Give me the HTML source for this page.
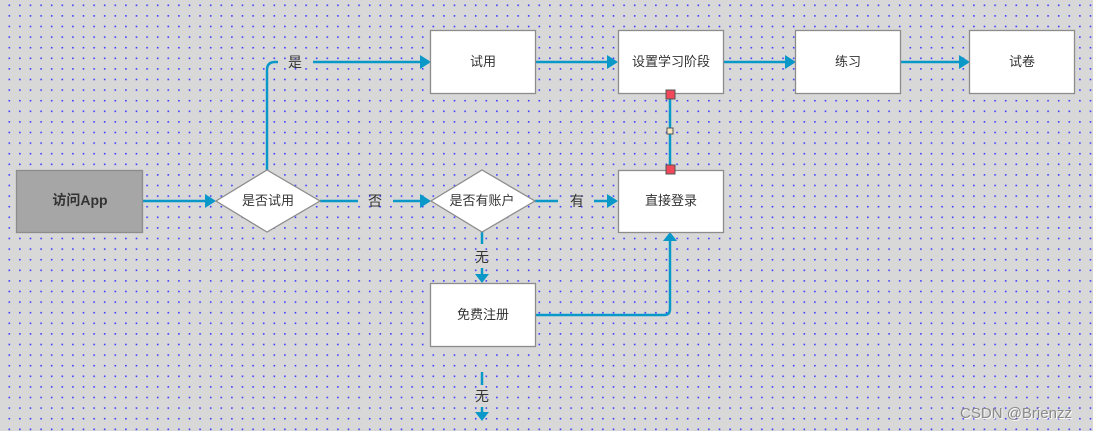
<!DOCTYPE html>
<html><head><meta charset="utf-8"><style>
html,body{margin:0;padding:0;background:#d8d8d8;}
svg{display:block}
text{font-family:"Liberation Sans","Noto Sans CJK SC",sans-serif;font-size:13px;fill:#333;}
</style></head><body>
<svg width="1093" height="431" viewBox="0 0 1093 431" xmlns="http://www.w3.org/2000/svg">
<defs>
<pattern id="g" x="8.5" y="4.5" width="10.6" height="10.6" patternUnits="userSpaceOnUse">
<rect x="0" y="0" width="1.6" height="1.6" fill="#3c3cff"/>
</pattern>
</defs>
<rect width="1093" height="431" fill="#d8d8d8"/>
<rect width="1093" height="431" fill="url(#g)"/>
<g stroke="#0a98c8" stroke-width="2.5" fill="none">
<path d="M143 201 H205"/>
<path d="M267 170 V70 Q267 62 275 62 H278"/>
<path d="M313 62 H420"/>
<path d="M320 201 H358"/><path d="M393 201 H420"/>
<path d="M535 201 H558"/><path d="M594 201 H607"/>
<path d="M535 62 H607"/><path d="M723 62 H785"/><path d="M900 62 H959"/>
<path d="M670 94 V170"/>
<path d="M482 232 V244"/><path d="M482 268 V274"/>
<path d="M535 315 H664 Q670 315 670 309 V240"/>
<path d="M482 372 V385"/><path d="M482 407 V412"/>
</g>
<g fill="#0a98c8">
<polygon points="205,194 216,201 205,208"/>
<polygon points="420,55 431,62 420,69"/>
<polygon points="420,194 431,201 420,208"/>
<polygon points="607,194 618,201 607,208"/>
<polygon points="607,55 618,62 607,69"/>
<polygon points="785,55 796,62 785,69"/>
<polygon points="959,55 970,62 959,69"/>
<polygon points="475,274 482,283 489,274"/>
<polygon points="663,241 670,232 677,241"/>
<polygon points="475,412 482,421 489,412"/>
</g>
<g stroke="#8c8c8c" stroke-width="1.3">
<rect x="16.5" y="170.5" width="126" height="62" fill="#a6a6a6"/>
<polygon points="216,201 267,170 320,201 267,232" fill="#fff"/>
<polygon points="431,201 482,170 535,201 482,232" fill="#fff"/>
<rect x="430.5" y="30.5" width="105" height="63" fill="#fff"/>
<rect x="618.5" y="30.5" width="105" height="63" fill="#fff"/>
<rect x="795.5" y="30.5" width="105" height="63" fill="#fff"/>
<rect x="969.5" y="30.5" width="105" height="63" fill="#fff"/>
<rect x="618.5" y="170.5" width="105" height="62" fill="#fff"/>
<rect x="430.5" y="283.5" width="105" height="63" fill="#fff"/>
</g>
<g stroke="#555" stroke-width="1">
<rect x="666" y="90" width="9" height="9" fill="#f04858"/>
<rect x="666" y="165" width="9" height="9" fill="#f04858"/>
<rect x="667" y="128" width="6" height="6" fill="#f5e6c0"/>
</g>
<g text-anchor="middle">
<text x="80" y="205" font-weight="bold" style="font-size:14px">访问App</text>
<text x="268" y="205">是否试用</text>
<text x="482" y="205">是否有账户</text>
<text x="483" y="66">试用</text>
<text x="671" y="66">设置学习阶段</text>
<text x="848" y="66">练习</text>
<text x="1022" y="66">试卷</text>
<text x="671" y="205">直接登录</text>
<text x="483" y="319">免费注册</text>
<text x="295" y="67" style="font-size:14px">是</text>
<text x="375" y="206" style="font-size:14px">否</text>
<text x="577" y="206" style="font-size:14px">有</text>
<text x="482" y="262" style="font-size:14px">无</text>
<text x="482" y="401" style="font-size:14px">无</text>
</g>
<text x="1017" y="419" text-anchor="middle" style="font-size:15px;fill:#fafafa">CSDN @Brienzz</text>
<text x="1016" y="418" text-anchor="middle" style="font-size:15px;fill:#8a8a8a">CSDN @Brienzz</text>
</svg>
</body></html>
